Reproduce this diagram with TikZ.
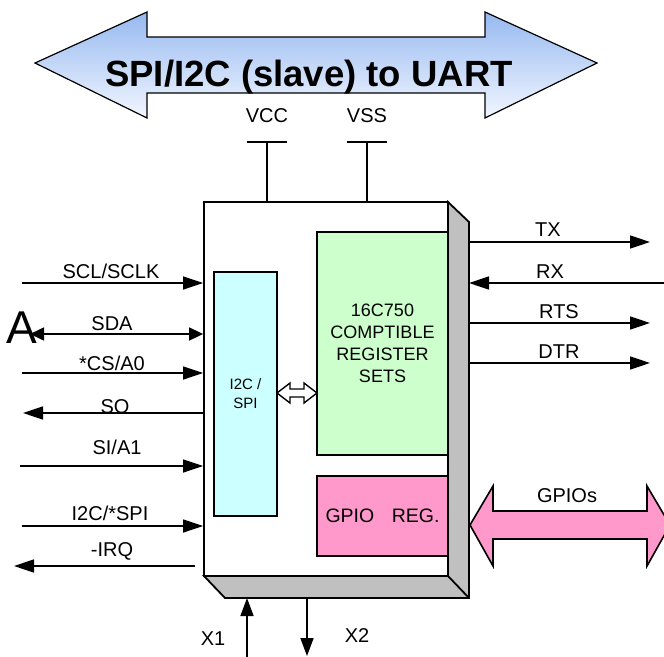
\documentclass[tikz,border=0pt]{standalone}
\usepackage{fontspec}
\setmainfont{Liberation Sans}
\usetikzlibrary{arrows.meta}
\definecolor{shadowgray}{RGB}{192,192,192}
\definecolor{cyanbox}{RGB}{204,255,255}
\definecolor{greenbox}{RGB}{204,255,204}
\definecolor{pinkbox}{RGB}{255,153,204}
\definecolor{titletop}{RGB}{150,185,240}
\definecolor{titlebot}{RGB}{242,246,255}
\begin{document}
\begin{tikzpicture}[x=1pt,y=-1pt,
  lab/.style={font=\fontsize{20}{23}\selectfont, inner sep=0pt, anchor=base},
  sig/.style={line width=1.6pt, -{Triangle[length=20pt,width=13pt]}},
  sigsmall/.style={line width=1.6pt, {Triangle[length=14pt,width=13pt]}-{Triangle[length=14pt,width=13pt]}},
  blk/.style={draw, line width=1.8pt, inner sep=0pt},
]
\useasboundingbox (0,0) rectangle (664,656);

% title arrow
\draw[line width=1.2pt, top color=titletop, bottom color=titlebot]
  (35,63) -- (147,12) -- (147,37) -- (485,37) -- (485,12) -- (597,63)
  -- (485,118) -- (485,93) -- (147,93) -- (147,118) -- cycle;
\node[font=\fontsize{36.5}{40}\selectfont\bfseries, inner sep=0pt, anchor=base] (title) at (309,86) {SPI/I2C (slave) to UART};

% stray text at left edge
\node[font=\fontsize{46}{50}\selectfont, anchor=base east, inner sep=0pt] (stray) at (37,343) {A};

% power pins
\node[lab] (vcc) at (267,122) {VCC};
\node[lab] (vss) at (367,122) {VSS};
\coordinate (vccT) at (267,142);
\coordinate (vssT) at (367,142);
\draw[line width=1.6pt] (247,142) -- (287,142);
\draw[line width=1.6pt] (347,142) -- (387,142);

% shadow
\draw[line width=1.8pt, fill=shadowgray] (448,202) -- (469,222) -- (469,598) -- (225,598) -- (204,576) -- (448,576) -- cycle;
\draw[line width=1.8pt] (448,576) -- (469,598);

% main box
\node[blk, fill=white, minimum width=244pt, minimum height=374pt] (box) at (326,389) {};
\draw[line width=1.6pt] (vccT) -- (vccT |- box.north);
\draw[line width=1.6pt] (vssT) -- (vssT |- box.north);

% inner blocks
\node[blk, fill=cyanbox, minimum width=63pt, minimum height=244pt, align=center,
  font=\fontsize{15}{19}\selectfont] (i2c) at (245.5,394) {I2C /\\SPI};
\node[blk, fill=greenbox, minimum width=131pt, minimum height=223pt, align=center,
  font=\fontsize{18}{22}\selectfont] (reg) at (382.5,343.5) {16C750\\COMPTIBLE\\REGISTER\\SETS};
\node[blk, fill=pinkbox, minimum width=131pt, minimum height=80pt,
  font=\fontsize{19.5}{22}\selectfont] (gpio) at (382.5,516) {GPIO\hspace{0.9em}REG.};

% internal double arrow
\draw[line width=1.4pt, fill=white] (277,393) -- (290,383) -- (290,389) -- (304,389) -- (304,383)
  -- (317,393) -- (304,403) -- (304,397) -- (290,397) -- (290,403) -- cycle;

% left signals
\coordinate (scl) at (22,283);
\coordinate (sda) at (30,334);
\coordinate (cs) at (22,373);
\coordinate (so) at (23,413);
\coordinate (si) at (20,466);
\coordinate (mode) at (22,526);
\coordinate (irqS) at (195,566);
\coordinate (irq) at (14,566);
\draw[sig] (scl) -- (scl -| box.west);
\draw[sigsmall] (sda) -- (sda -| box.west);
\draw[sig] (cs) -- (cs -| box.west);
\draw[sig] (so -| box.west) -- (so);
\draw[sig] (si) -- (si -| box.west);
\draw[sig] (mode) -- (mode -| box.west);
\draw[sig] (irqS) -- (irq);
\node[lab] (lscl) at (111,278) {SCL/SCLK};
\node[lab] (lsda) at (112,330) {SDA};
\node[lab] (lcs) at (112,370) {*CS/A0};
\node[lab] (lso) at (115,413) {SO};
\node[lab] (lsi) at (117,454) {SI/A1};
\node[lab] (lmode) at (110,520) {I2C/*SPI};
\node[lab] (lirq) at (112,556) {-IRQ};

% right signals
\coordinate (tx0) at (469,242); \coordinate (tx1) at (650,242);
\coordinate (rx0) at (469,283); \coordinate (rx1) at (664,283);
\coordinate (rts0) at (469,323); \coordinate (rts1) at (650,323);
\coordinate (dtr0) at (469,363); \coordinate (dtr1) at (650,363);
\draw[sig] (tx0) -- (tx1);
\draw[sig] (rx1) -- (rx0);
\draw[sig] (rts0) -- (rts1);
\draw[sig] (dtr0) -- (dtr1);
\node[lab] (ltx) at (548,236) {TX};
\node[lab] (lrx) at (550,278) {RX};
\node[lab] (lrts) at (559,318) {RTS};
\node[lab] (ldtr) at (559,358) {DTR};

% GPIO bus arrow
\draw[line width=1.6pt, fill=pinkbox] (470,525) -- (493,486) -- (493,511) -- (647,511) -- (647,486)
  -- (670,525) -- (647,566) -- (647,539) -- (493,539) -- (493,566) -- cycle;
\node[lab] (lgpio) at (567,502) {GPIOs};

% clock pins
\coordinate (x1a) at (247,660); \coordinate (x1b) at (247,598);
\coordinate (x2a) at (307,598); \coordinate (x2b) at (307,656);
\draw[line width=1.6pt, -{Triangle[length=18pt,width=13pt]}] (x1a) -- (x1b);
\draw[line width=1.6pt, -{Triangle[length=18pt,width=13pt]}] (x2a) -- (x2b);
\node[lab] (lx1) at (213,645) {X1};
\node[lab] (lx2) at (357,642) {X2};
\end{tikzpicture}
\end{document}
